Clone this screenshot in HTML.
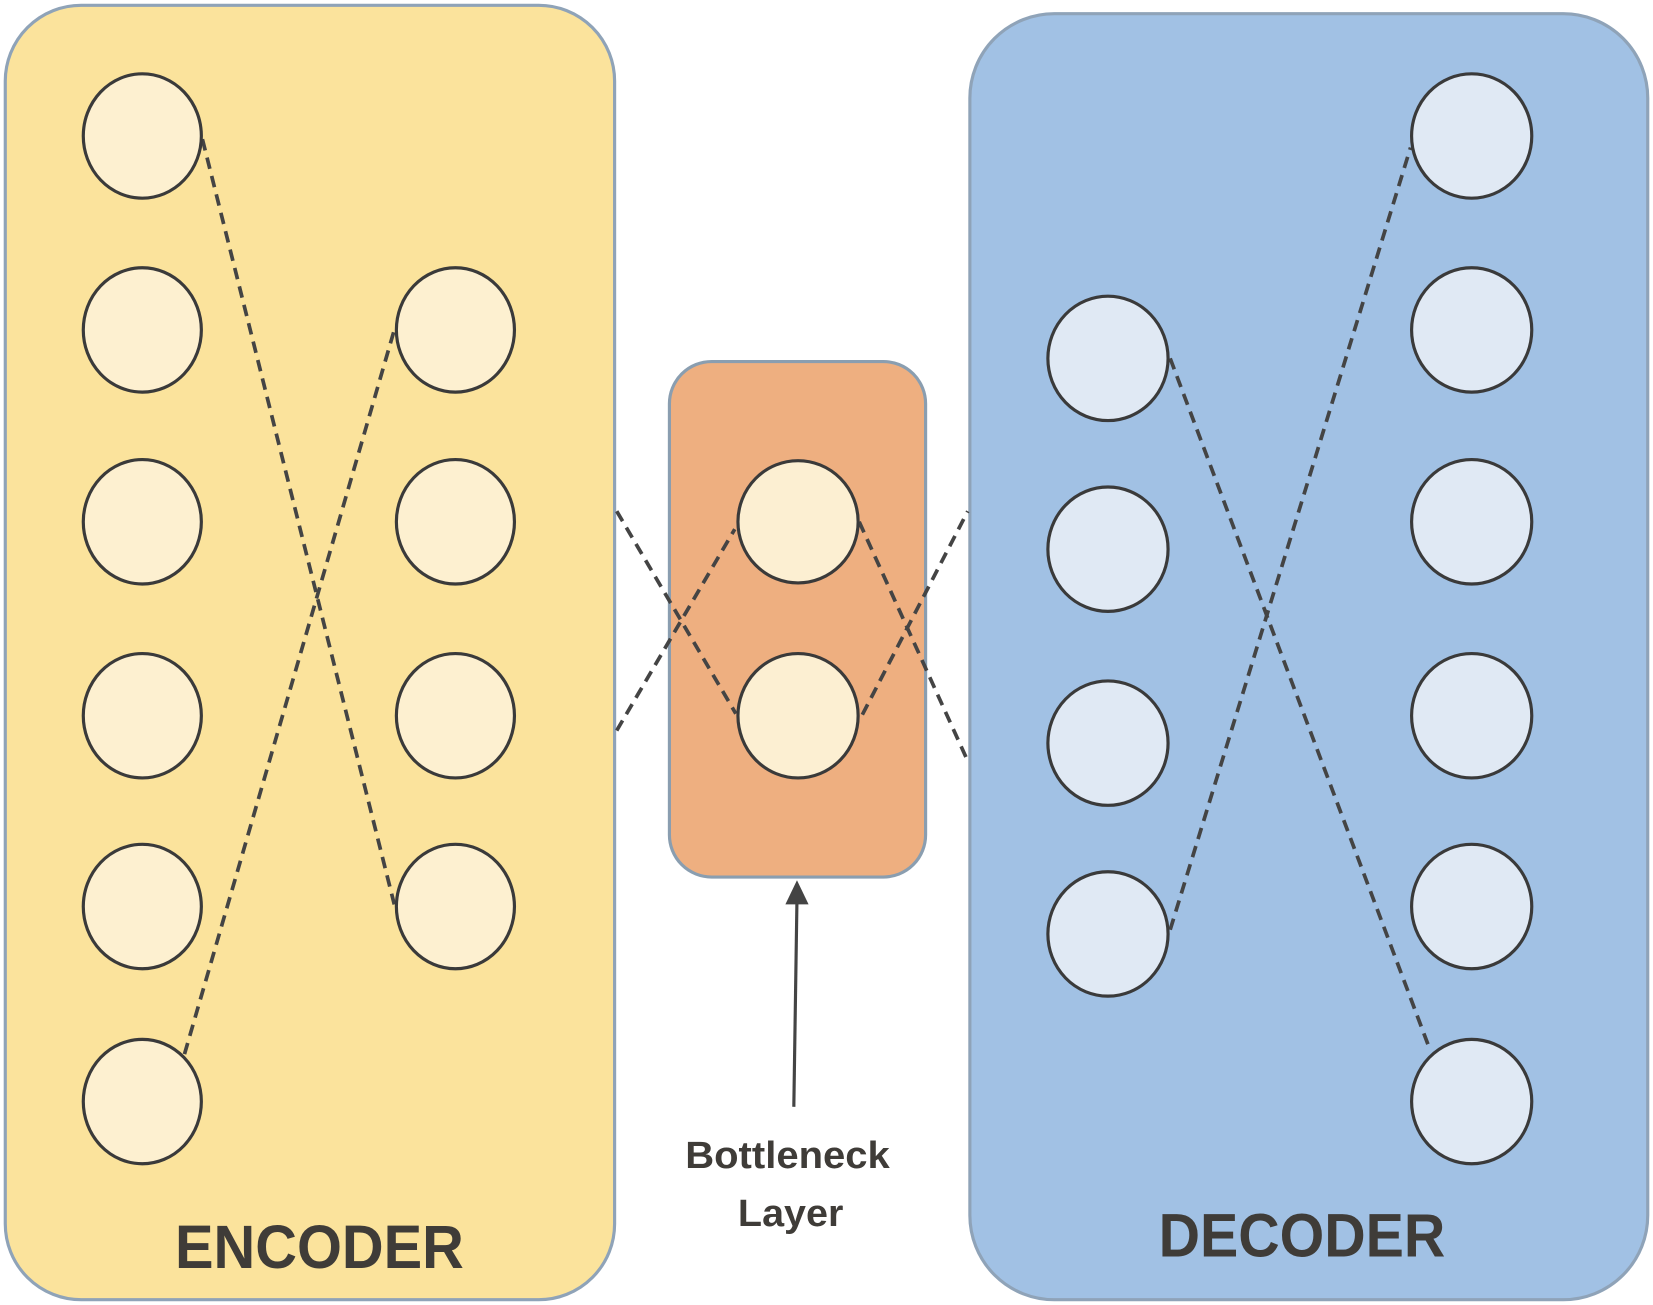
<!DOCTYPE html>
<html><head><meta charset="utf-8"><style>
html,body{margin:0;padding:0;background:#fff;}
svg{display:block;}
text{font-family:"Liberation Sans",sans-serif;fill:#3f3c38;font-weight:bold;}
</style></head><body>
<svg width="1653" height="1305" viewBox="0 0 1568 1238" preserveAspectRatio="none" xmlns="http://www.w3.org/2000/svg">
<rect x="5" y="5" width="578" height="1228" rx="72" fill="#fbe39c" stroke="#8fa3b8" stroke-width="3"/>
<rect x="920" y="13" width="643" height="1220" rx="80" fill="#a1c1e4" stroke="#8fa3b8" stroke-width="3"/>
<rect x="635" y="343" width="243" height="489" rx="40" fill="#eeaf80" stroke="#8a9eb0" stroke-width="3"/>
<g stroke="#444" stroke-width="3.5" stroke-dasharray="11,7" fill="none">
<line x1="192" y1="132" x2="374" y2="858"/>
<line x1="175" y1="1000" x2="374" y2="313"/>
<line x1="585" y1="485" x2="698" y2="677"/>
<line x1="585" y1="693" x2="697" y2="502"/>
<line x1="815" y1="495" x2="918" y2="722"/>
<line x1="818" y1="678" x2="918" y2="485"/>
<line x1="1110" y1="340" x2="1355" y2="992"/>
<line x1="1110" y1="882" x2="1338" y2="140"/>
</g>
<g fill="#fdf0d0" stroke="#3a3a3a" stroke-width="3">
<ellipse cx="135" cy="129" rx="56" ry="59"/><ellipse cx="135" cy="313" rx="56" ry="59"/><ellipse cx="135" cy="495" rx="56" ry="59"/><ellipse cx="135" cy="679" rx="56" ry="59"/><ellipse cx="135" cy="860" rx="56" ry="59"/><ellipse cx="135" cy="1045" rx="56" ry="59"/>
<ellipse cx="432" cy="313" rx="56" ry="59"/><ellipse cx="432" cy="495" rx="56" ry="59"/><ellipse cx="432" cy="679" rx="56" ry="59"/><ellipse cx="432" cy="860" rx="56" ry="59"/>
</g>
<g fill="#fcefd2" stroke="#3a3a3a" stroke-width="3">
<ellipse cx="757" cy="495" rx="57" ry="58"/><ellipse cx="757" cy="679" rx="57" ry="59"/>
</g>
<g fill="#e0e9f4" stroke="#3a3a3a" stroke-width="3">
<ellipse cx="1051" cy="340" rx="57" ry="59"/><ellipse cx="1051" cy="521" rx="57" ry="59"/><ellipse cx="1051" cy="705" rx="57" ry="59"/><ellipse cx="1051" cy="886" rx="57" ry="59"/>
<ellipse cx="1396" cy="129" rx="57" ry="59"/><ellipse cx="1396" cy="313" rx="57" ry="59"/><ellipse cx="1396" cy="495" rx="57" ry="59"/><ellipse cx="1396" cy="679" rx="57" ry="59"/><ellipse cx="1396" cy="860" rx="57" ry="59"/><ellipse cx="1396" cy="1045" rx="57" ry="59"/>
</g>
<g>
<line x1="753" y1="1050" x2="756" y2="852" stroke="#444" stroke-width="3"/>
<polygon points="756,835 745,858 767,858" fill="#444"/>
</g>
<text x="747" y="1108" font-size="36" text-anchor="middle" textLength="194" lengthAdjust="spacingAndGlyphs">Bottleneck</text>
<text x="750" y="1163" font-size="36" text-anchor="middle" textLength="100" lengthAdjust="spacingAndGlyphs">Layer</text>
<text x="303" y="1203" font-size="58" text-anchor="middle" textLength="274" lengthAdjust="spacingAndGlyphs">ENCODER</text>
<text x="1235" y="1192" font-size="58" text-anchor="middle" textLength="272" lengthAdjust="spacingAndGlyphs">DECODER</text>
</svg>
</body></html>
